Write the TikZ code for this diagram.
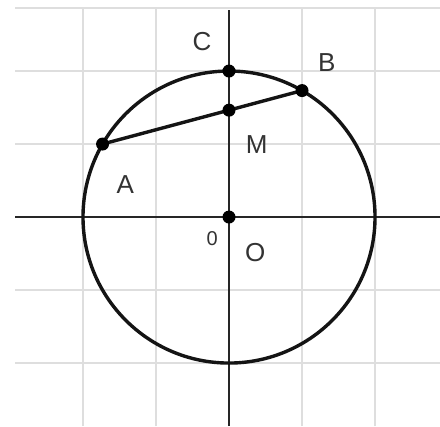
\documentclass[tikz,border=0pt]{standalone}
\usepackage{fontspec}
\setmainfont{Liberation Sans}
\usetikzlibrary{calc}
\begin{document}
\begin{tikzpicture}[x=73pt,y=73pt,
  gridline/.style={draw=black!13,line width=1.5pt},
  axis/.style={draw=black!85,line width=2.4pt},
  curve/.style={draw=black!92,line width=3.4pt},
  dot/.style={circle,fill=black,inner sep=0pt,minimum size=13pt},
  lbl/.style={text=black!80,font=\fontsize{26}{26}\selectfont,inner sep=0pt},
  small/.style={text=black!80,font=\fontsize{20}{20}\selectfont,inner sep=0pt}]
\useasboundingbox[fill=white] (-3.137,-2.863) rectangle (2.890,2.973);
% grid
\foreach \x in {-2,-1,1,2} \draw[gridline] (\x,-2.863) -- (\x,2.863);
\foreach \y in {-2,-1,1,2,2.863} \draw[gridline] (-2.93,\y) -- (2.890,\y);
% axes
\draw[axis] (-2.93,0) -- (2.890,0);
\draw[axis] (0,-2.863) -- (0,2.836);
% circle
\coordinate (O) at (0,0);
\draw[curve] (O) circle (2);
\coordinate (A) at (150:2);
\coordinate (B) at (60:2);
\coordinate (C) at (0,2);
\coordinate (M) at (0,1.464);
\draw[curve] (A) -- (B);
\node[dot] (dA) at (A) {};
\node[dot] (dB) at (B) {};
\node[dot] (dC) at (C) {};
\node[dot] (dM) at (M) {};
\node[dot] (dO) at (O) {};
% labels
\node[lbl] (lC) at (-0.37,2.40) {C};
\node[lbl] (lB) at (1.34,2.12) {B};
\node[lbl] (lM) at (0.38,0.99) {M};
\node[lbl] (lA) at (-1.42,0.45) {A};
\node[small] (l0) at (-0.23,-0.29) {0};
\node[lbl] (lO) at (0.36,-0.48) {O};
\end{tikzpicture}
\end{document}
